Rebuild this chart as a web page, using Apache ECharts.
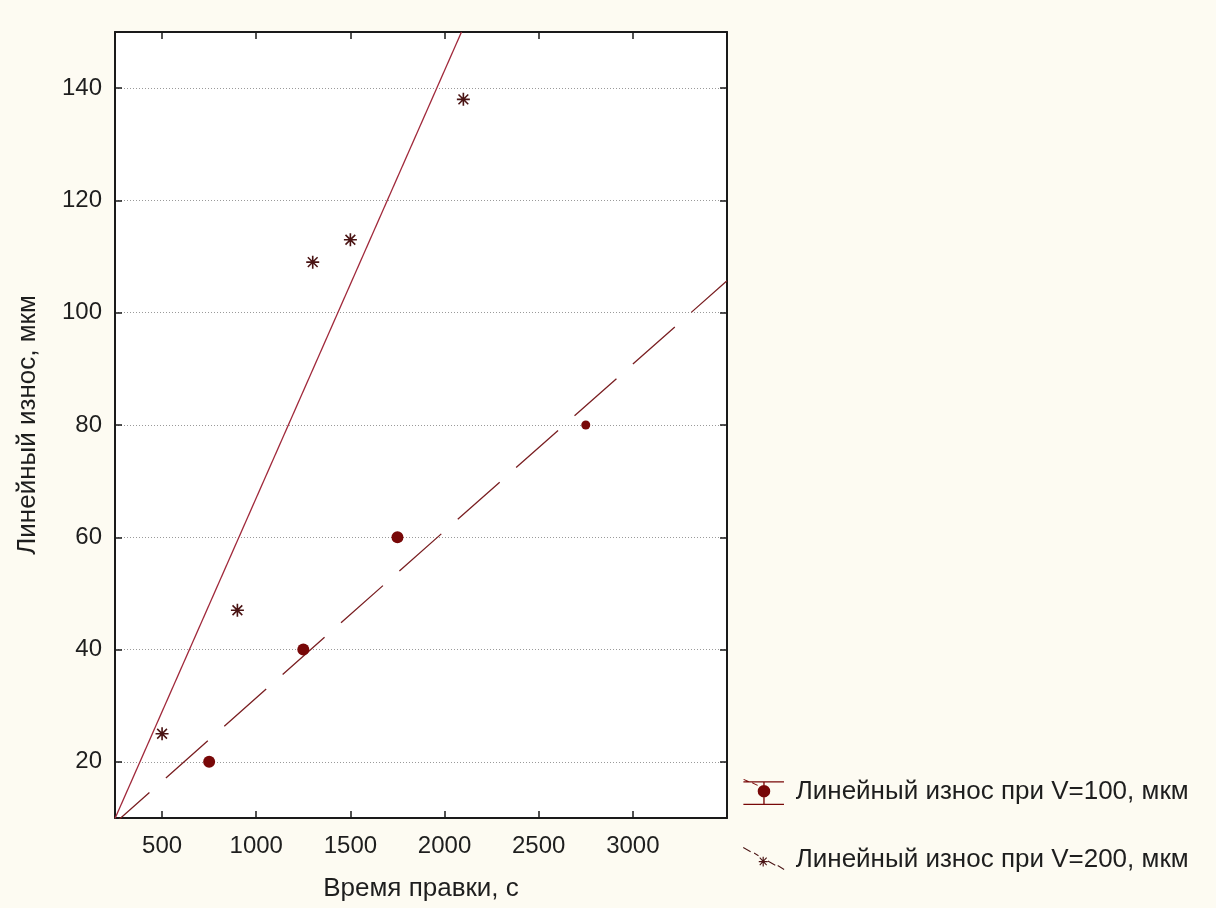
<!DOCTYPE html>
<html>
<head>
<meta charset="utf-8">
<script src="https://cdn.jsdelivr.net/npm/echarts@6/dist/echarts.min.js"></script>
<style>
html,body{margin:0;padding:0;background:#FDFBF2;}
#chart{width:1216px;height:908px;}
</style>
</head>
<body>
<div id="chart"></div>
<script>
// ---- data ----
const seriesNames = ['Линейный износ при V=100, мкм', 'Линейный износ при V=200, мкм'];
const timeV100 = [750, 1250, 1750, 2750];
const wearV100 = [20, 40, 60, 80];
const timeV200 = [500, 900, 1300, 1500, 2100];
const wearV200 = [25, 47, 109, 113, 138];
// fitted lines: end points
const fitV100X = [250, 3500];
const fitV100Y = [9.1, 105.7];
const fitV200X = [250, 2090];
const fitV200Y = [9.9, 150];
// axes
const xRange = [250, 3500];
const yRange = [10, 150];
const xStep = 500;
const yStep = 20;
const xTitle = 'Время правки, с';
const yTitle = 'Линейный износ, мкм';

const pairs = (xs, ys) => xs.map((x, i) => [x, ys[i]]);

const FONT = '"Liberation Sans", Arial, sans-serif';
const AXIS_COLOR = '#1a1a1a';
const TEXT_COLOR = '#1e1e1e';

const asteriskPath = 'path://M0,5.25L12,5.25L12,6.75L0,6.75Z' +
  'M5.25,0L6.75,0L6.75,12L5.25,12Z' +
  'M1,2L2,1L11,10L10,11Z' +
  'M10,1L11,2L2,11L1,10Z';

// legend icon 1: error-bar like glyph with circle and dashed diagonal (box 42x26)
const legendIcon1 = 'path://M0,1.3L42,1.3L42,2.7L0,2.7Z' +
  'M0,24.6L42,24.6L42,26L0,26Z' +
  'M20.6,2L22,2L22,25L20.6,25Z' +
  'M27.8,11.7A6.5,6.5 0 1,1 14.8,11.7A6.5,6.5 0 1,1 27.8,11.7Z' +
  'M0,0L0.5,-0.9L6.5,1.8L6,2.7Z' +
  'M9,3.6L9.5,2.7L15,5.2L14.5,6.1Z';
// legend icon 2: asterisk with dashed diagonal (box 42x26)
const legendIcon2 = 'path://M0,0.6L0.5,-0.4L8,4L7.5,5Z' +
  'M11,6.2L11.5,5.2L16,7.9L15.5,8.9Z' +
  'M25,14.3L25.5,13.3L33,17.7L32.5,18.7Z' +
  'M35,19L35.5,18L42,21.9L41.5,22.9Z' +
  'M16,13.8L25,13.8L25,15L16,15Z' +
  'M19.9,9.4L21.1,9.4L21.1,19.4L19.9,19.4Z' +
  'M16.6,10.8L17.4,10L24.4,17.6L23.6,18.4Z' +
  'M23.6,10L24.4,10.8L17.4,18.4L16.6,17.6Z' +
  'M0,26L0.01,26L0.01,25.99Z';

const chart = echarts.init(document.getElementById('chart'), null, {renderer: 'canvas'});

const baseX = {
  type: 'value', min: xRange[0], max: xRange[1],
  minInterval: xStep, maxInterval: xStep, splitNumber: 7,
  axisLine: {show: true, onZero: false, lineStyle: {color: AXIS_COLOR, width: 2}},
  axisTick: {show: true, inside: true, length: 7, lineStyle: {color: AXIS_COLOR, width: 1.5}},
  splitLine: {show: false}
};
const baseY = {
  type: 'value', min: yRange[0], max: yRange[1],
  minInterval: yStep, maxInterval: yStep, splitNumber: 7,
  axisLine: {show: true, onZero: false, lineStyle: {color: AXIS_COLOR, width: 2}},
  axisTick: {show: true, inside: true, length: 7, lineStyle: {color: AXIS_COLOR, width: 1.5}}
};

const option = {
  backgroundColor: '#FDFBF2',
  animation: false,
  textStyle: {fontFamily: FONT},
  grid: {left: 115, top: 32, width: 612, height: 786, show: true, backgroundColor: '#ffffff', borderWidth: 0},
  legend: {
    orient: 'vertical', left: 743, top: 779, padding: 0,
    itemWidth: 42, itemHeight: 26, itemGap: 42,
    textStyle: {fontSize: 26, color: TEXT_COLOR, fontFamily: FONT, padding: [2, 0, 0, 6]},
    data: [
      {name: seriesNames[0], icon: legendIcon1},
      {name: seriesNames[1], icon: legendIcon2}
    ]
  },
  xAxis: [
    Object.assign({}, baseX, {
      position: 'bottom',
      name: xTitle, nameLocation: 'middle', nameGap: 58,
      nameTextStyle: {fontSize: 26, color: TEXT_COLOR, fontFamily: FONT},
      axisLabel: {show: true, margin: 16, fontSize: 24, color: TEXT_COLOR, fontFamily: FONT,
        showMinLabel: false, showMaxLabel: false,
        formatter: v => (v % xStep === 0 && v > xRange[0] && v < xRange[1]) ? String(v) : ''}
    }),
    Object.assign({}, baseX, {position: 'top', axisLabel: {show: false}})
  ],
  yAxis: [
    Object.assign({}, baseY, {
      position: 'left',
      name: yTitle, nameLocation: 'middle', nameGap: 74, nameRotate: 90,
      nameTextStyle: {fontSize: 26, color: TEXT_COLOR, fontFamily: FONT},
      axisLabel: {show: true, margin: 13, fontSize: 24, color: TEXT_COLOR, fontFamily: FONT,
        showMinLabel: false, showMaxLabel: false,
        formatter: v => (v % yStep === 0 && v > yRange[0] && v < yRange[1]) ? String(v) : ''},
      splitLine: {show: true, lineStyle: {color: '#9a9a9a', width: 1, type: [1, 2]}}
    }),
    Object.assign({}, baseY, {position: 'right', axisLabel: {show: false}, splitLine: {show: false}})
  ],
  series: [
    {
      name: seriesNames[0], type: 'scatter', xAxisIndex: 0, yAxisIndex: 0,
      data: pairs(timeV100, wearV100),
      symbol: 'circle',
      symbolSize: (val, params) => params.dataIndex === 3 ? 9 : 12,
      itemStyle: {color: '#780808', opacity: 1}, z: 5
    },
    {
      name: seriesNames[0], type: 'line', xAxisIndex: 0, yAxisIndex: 0,
      data: pairs(fitV100X, fitV100Y), showSymbol: false, symbol: 'none', clip: true,
      lineStyle: {color: '#7a1f22', width: 1.3, type: [56, 22], dashOffset: 10},
      itemStyle: {color: '#780808'}, z: 3
    },
    {
      name: seriesNames[1], type: 'scatter', xAxisIndex: 0, yAxisIndex: 0,
      data: pairs(timeV200, wearV200),
      symbol: asteriskPath, symbolSize: 13,
      itemStyle: {color: '#4a1414', opacity: 1}, z: 5
    },
    {
      name: seriesNames[1], type: 'line', xAxisIndex: 0, yAxisIndex: 0,
      data: pairs(fitV200X, fitV200Y), showSymbol: false, symbol: 'none', clip: true,
      lineStyle: {color: '#a0283a', width: 1.3, type: 'solid'},
      itemStyle: {color: '#4a1414'}, z: 3
    }
  ]
};
chart.setOption(option);
</script>
</body>
</html>
